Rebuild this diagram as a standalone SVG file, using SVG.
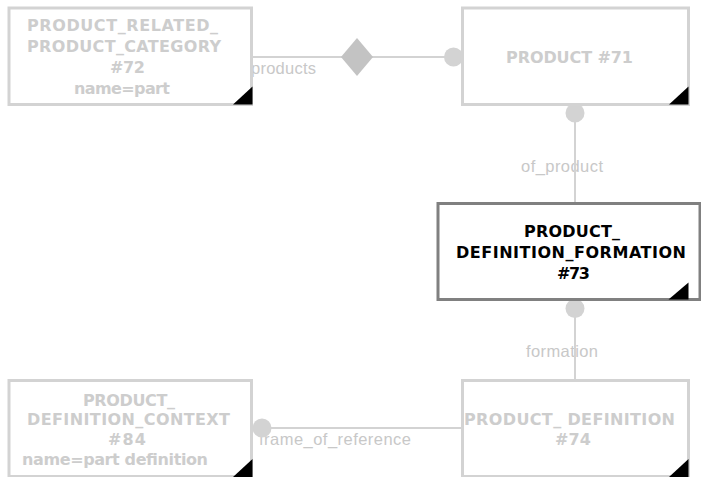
<svg xmlns="http://www.w3.org/2000/svg" width="701" height="477" viewBox="0 0 701 477">
  <style>
    .box { fill: #ffffff; stroke: #d3d3d3; stroke-width: 3; }
    .box.active { stroke: #808080; }
    .corner { fill: #000000; }
    .ntext { font-family: "DejaVu Sans", Verdana, sans-serif; font-weight: bold; font-size: 16px; fill: #cdcdcd; }
    .ntext.active { fill: #000000; }
    .edge { stroke: #d3d3d3; stroke-width: 2; fill: none; }
    .end { fill: #d3d3d3; }
    .agg { fill: #c3c3c3; }
    .label { font-family: "Liberation Sans", Arial, sans-serif; font-size: 16.5px; fill: #c8c8c8; }
  </style>

  <g id="connectors">
    <!-- role labels -->
    <text class="label" x="251" y="73.5" textLength="65" lengthAdjust="spacing">products</text>
    <text class="label" x="521" y="171.5" textLength="82" lengthAdjust="spacing">of_product</text>
    <text class="label" x="526" y="356.5" textLength="72" lengthAdjust="spacing">formation</text>
    <text class="label" x="259" y="445" textLength="152" lengthAdjust="spacing">frame_of_reference</text>
    <!-- lines -->
    <line class="edge" x1="252" y1="57" x2="453" y2="57"/>
    <line class="edge" x1="575" y1="113" x2="575" y2="203"/>
    <line class="edge" x1="575" y1="309" x2="575" y2="380"/>
    <line class="edge" x1="262" y1="428" x2="462" y2="428"/>
    <!-- ends -->
    <polygon class="agg" points="357,38 373,57 357,76 341,57"/>
    <circle class="end" cx="453.5" cy="57" r="9.5"/>
    <circle class="end" cx="575" cy="113" r="9.5"/>
    <circle class="end" cx="575" cy="308.5" r="9.5"/>
    <circle class="end" cx="262" cy="428" r="9.5"/>
  </g>

  <g id="node-72">
    <rect class="box" x="9" y="8" width="242.5" height="96.5"/>
    <polygon class="corner" points="233,104.5 252.5,86.5 252.5,104.5"/>
    <text class="ntext" x="27" y="31" textLength="191" lengthAdjust="spacing">PRODUCT_RELATED_</text>
    <text class="ntext" x="27" y="51.5" textLength="194" lengthAdjust="spacing">PRODUCT_CATEGORY</text>
    <text class="ntext" x="110" y="73" textLength="35" lengthAdjust="spacing">#72</text>
    <text class="ntext" x="74" y="94" textLength="96" lengthAdjust="spacing">name=part</text>
  </g>

  <g id="node-71">
    <rect class="box" x="462.5" y="8" width="226" height="96.5"/>
    <polygon class="corner" points="669,104.5 688.5,86.5 688.5,104.5"/>
    <text class="ntext" x="506" y="62.5" textLength="127" lengthAdjust="spacing">PRODUCT #71</text>
  </g>

  <g id="node-73">
    <rect class="box active" x="438" y="203.5" width="262" height="96"/>
    <polygon class="corner" points="668.5,299.5 688.5,282.5 688.5,299.5"/>
    <text class="ntext active" x="524" y="237" textLength="96" lengthAdjust="spacing">PRODUCT_</text>
    <text class="ntext active" x="456" y="258" textLength="230" lengthAdjust="spacing">DEFINITION_FORMATION</text>
    <text class="ntext active" x="557" y="279" textLength="33" lengthAdjust="spacing">#73</text>
  </g>

  <g id="node-84">
    <rect class="box" x="9" y="380.5" width="242.5" height="96"/>
    <polygon class="corner" points="233,477 252.5,459 252.5,477"/>
    <text class="ntext" x="83" y="406" textLength="92" lengthAdjust="spacing">PRODUCT_</text>
    <text class="ntext" x="27" y="425" textLength="203" lengthAdjust="spacing">DEFINITION_CONTEXT</text>
    <text class="ntext" x="108" y="445" textLength="38" lengthAdjust="spacing">#84</text>
    <text class="ntext" x="22" y="465" textLength="186" lengthAdjust="spacing">name=part definition</text>
  </g>

  <g id="node-74">
    <rect class="box" x="462.5" y="380.5" width="226" height="96"/>
    <polygon class="corner" points="669,477 688.5,459 688.5,477"/>
    <text class="ntext" x="464" y="425" textLength="211" lengthAdjust="spacing">PRODUCT_ DEFINITION</text>
    <text class="ntext" x="555" y="445" textLength="36" lengthAdjust="spacing">#74</text>
  </g>
</svg>
